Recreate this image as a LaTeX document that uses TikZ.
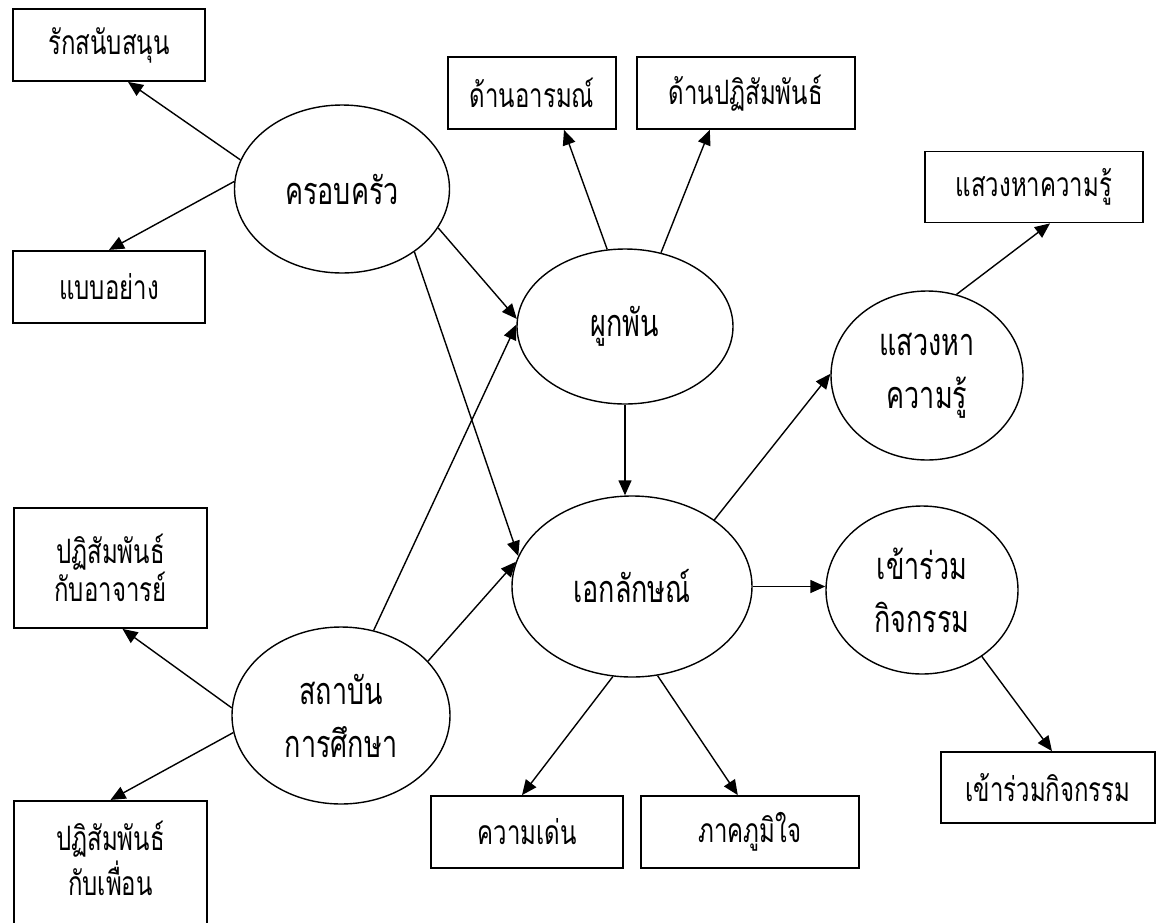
\documentclass[tikz,border=0pt]{standalone}
\usepackage{fontspec}
\usepackage{tikz}
\usetikzlibrary{arrows.meta,positioning,shapes.geometric}
\newfontfamily\thaifont[Script=Thai, FakeStretch=0.714]{Loma}

\begin{document}
\begin{tikzpicture}[
    x=1pt, y=-1pt,
    node distance=168pt,
    block/.style={draw, line width=1.8pt, inner sep=0pt, align=center, minimum width=192pt, minimum height=72pt, font=\thaifont\fontsize{33.6}{38}\selectfont},
    factor/.style={draw, ellipse, line width=1.4pt, inner sep=0pt, align=center, font=\thaifont\fontsize{37.8}{53}\selectfont},
    arrow/.style={-{Triangle[length=15pt,width=13pt]}, line width=1.4pt}
]
\useasboundingbox (0,0) rectangle (1157,922);
% factors
\node[factor, minimum width=215pt, minimum height=168pt] (family) at (342,189) {ครอบครัว};
\node[factor, minimum width=216pt, minimum height=155pt] (bond) at (625,326.5) {ผูกพัน};
\node[factor, minimum width=240pt, minimum height=181pt] (ident) at (632,586.5) {เอกลักษณ์};
\node[factor, minimum width=192pt, minimum height=169pt] (seek) at (927,375.5) {แสวงหา\\ความรู้};
\node[factor, minimum width=192pt, minimum height=168pt] (join) at (922,590) {เข้าร่วม\\กิจกรรม};
\node[factor, minimum width=218pt, minimum height=177pt] (school) at (341,715.5) {สถาบัน\\การศึกษา};
% outcome boxes
\node[block] (support) at (109,45) {รักสนับสนุน};
\node[block, below=of support] (model) {แบบอย่าง};
\node[block, minimum width=168pt] (emotion) at (532,93) {ด้านอารมณ์};
\node[block, minimum width=218pt, right=19pt of emotion] (interact) {ด้านปฏิสัมพันธ์};
\node[block, minimum width=218pt, minimum height=71pt] (seekbox) at (1034,187) {แสวงหาความรู้};
\node[block, minimum width=193pt, minimum height=120pt] (teacher) at (110.5,568) {ปฏิสัมพันธ์\\กับอาจารย์};
\node[block, minimum width=193pt, minimum height=160pt, below=171pt of teacher, font=\thaifont\fontsize{33.6}{45}\selectfont] (peer) {ปฏิสัมพันธ์\\กับเพื่อน\\};
\node[block] (promin) at (527,832) {ความเด่น};
\node[block, minimum width=218pt, right=16pt of promin] (pride) {ภาคภูมิใจ};
\node[block, minimum width=214pt, minimum height=71pt] (joinbox) at (1048,787.5) {เข้าร่วมกิจกรรม};
% links
\draw[arrow] (family.164) -- ([xshift=19pt]support.south);
\draw[arrow] (family.176) -- (model.north);
\draw[arrow] (family.338) -- (bond.176);
\draw[arrow] (family.319) -- (ident.165);
\draw[arrow] (bond.103) -- ([xshift=32pt]emotion.south);
\draw[arrow] (bond.64) -- ([xshift=-36pt]interact.south);
\draw[arrow] (bond.south) -- (bond.south |- ident.north);
\draw[arrow] (school.69) -- (bond.179);
\draw[arrow] (school.32) -- (ident.168);
\draw[arrow] (school.176) -- ([xshift=12pt]teacher.south);
\draw[arrow] (school.189) -- (peer.north);
\draw[arrow] (ident.39) -- (seek.179);
\draw[arrow] (seek.70) -- ([xshift=16pt]seekbox.south);
\draw[arrow] (ident.east) -- (ident.east -| join.west);
\draw[arrow] (ident.258) -- ([xshift=-5pt]promin.north);
\draw[arrow] (ident.286) -- ([xshift=-12pt]pride.north);
\draw[arrow] (join.312) -- ([xshift=4pt]joinbox.north);
\end{tikzpicture}
\end{document}
